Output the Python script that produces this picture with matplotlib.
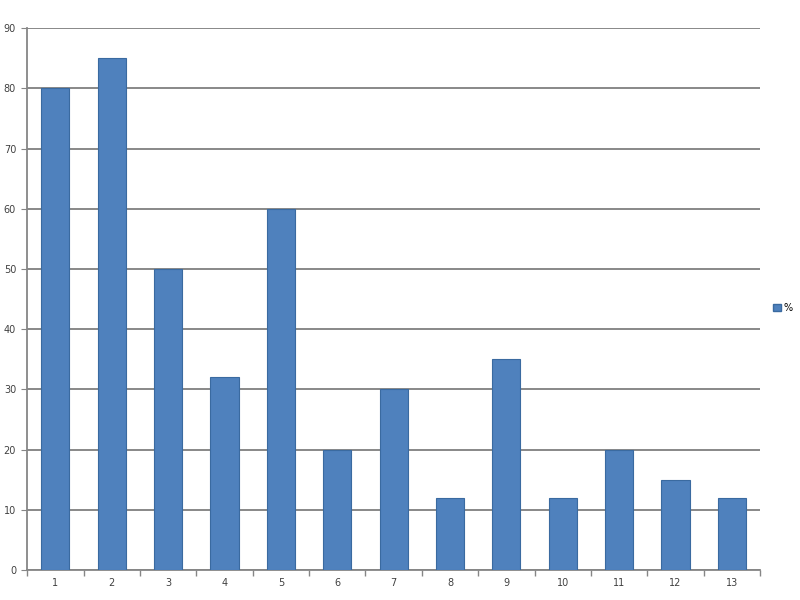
import matplotlib
matplotlib.use("Agg")
import matplotlib.pyplot as plt
from matplotlib.patches import Patch

categories = ["1", "2", "3", "4", "5", "6", "7", "8", "9", "10", "11", "12", "13"]
values = [80, 85, 50, 32, 60, 20, 30, 12, 35, 12, 20, 15, 12]
series_name = "%"

fig = plt.figure(figsize=(8, 6), dpi=100)
ax = fig.add_axes([0.034, 0.05, 0.916, 0.903])

x = list(range(len(categories)))
ax.bar(x, values, width=0.5, color="#4f81bd", edgecolor="#3a6aa0", linewidth=0.8, zorder=3)

ax.set_xlim(-0.5, len(categories) - 0.5)
ax.set_ylim(0, 90)
ax.set_yticks(range(0, 91, 10))
ax.set_xticks(x)
ax.set_xticklabels(categories)
ax.set_xticks([i + 0.5 for i in range(-1, len(categories))], minor=True)
ax.grid(axis="y", color="#7f7f7f", linewidth=1.3, zorder=0)

for s in ["top", "right"]:
    ax.spines[s].set_visible(False)
for s in ["left", "bottom"]:
    ax.spines[s].set_color("#868686")
    ax.spines[s].set_linewidth(1.3)

ax.tick_params(axis="x", which="major", length=0, labelsize=7, colors="#404040", pad=6)
ax.tick_params(axis="x", which="minor", length=4, color="#868686", width=1)
ax.tick_params(axis="y", length=4, color="#868686", labelsize=7, labelcolor="#404040", pad=4)

fig.legend(handles=[Patch(facecolor="#4f81bd", edgecolor="#3a6aa0", label=series_name)],
           loc="center left", bbox_to_anchor=(0.955, 0.487), frameon=False,
           fontsize=7, handlelength=0.8, handleheight=0.8, handletextpad=0.3)

fig.savefig("out.png", dpi=100, facecolor="white")
